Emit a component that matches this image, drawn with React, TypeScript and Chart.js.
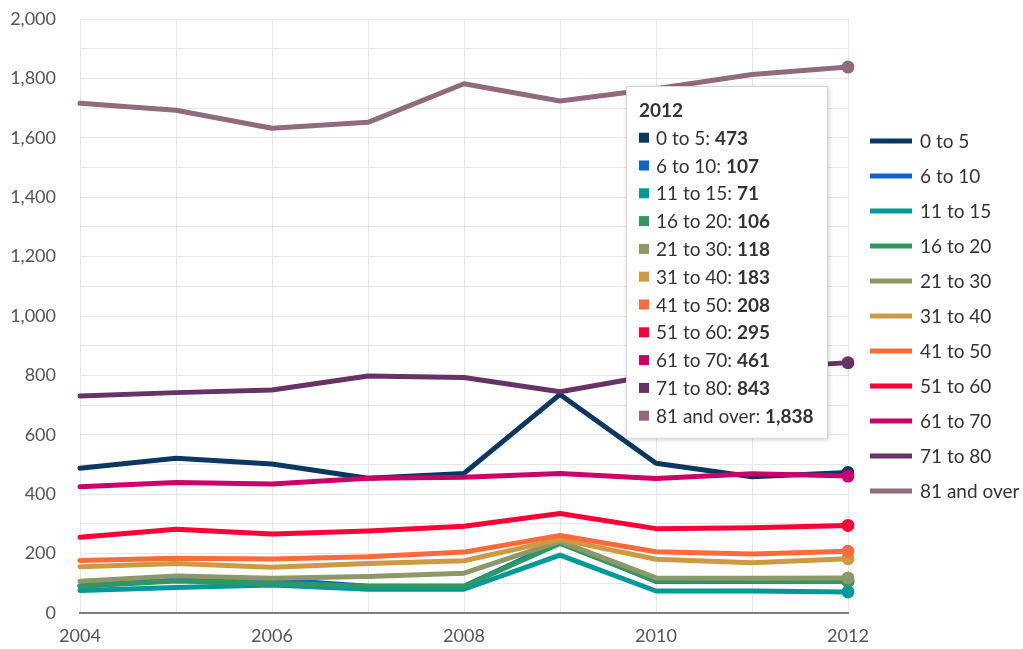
import React, { useEffect, useRef } from "react";
import { Chart, registerables } from "chart.js";

Chart.register(...registerables);

const years = ["2004", "2005", "2006", "2007", "2008", "2009", "2010", "2011", "2012"];

const seriesNames = [
  "0 to 5",
  "6 to 10",
  "11 to 15",
  "16 to 20",
  "21 to 30",
  "31 to 40",
  "41 to 50",
  "51 to 60",
  "61 to 70",
  "71 to 80",
  "81 and over",
];

const age0to5 = [487, 521, 502, 454, 470, 736, 504, 459, 473];
const age6to10 = [92, 111, 113, 90, 90, 240, 106, 106, 107];
const age11to15 = [76, 86, 94, 80, 80, 195, 74, 74, 71];
const age16to20 = [90, 108, 100, 90, 90, 234, 108, 107, 106];
const age21to30 = [107, 125, 117, 123, 134, 241, 118, 117, 118];
const age31to40 = [156, 167, 154, 167, 176, 248, 181, 169, 183];
const age41to50 = [177, 184, 182, 189, 205, 261, 206, 199, 208];
const age51to60 = [255, 282, 266, 276, 292, 335, 284, 287, 295];
const age61to70 = [425, 439, 434, 454, 457, 470, 453, 469, 461];
const age71to80 = [731, 742, 751, 798, 793, 745, 802, 822, 843];
const age81plus = [1716, 1693, 1632, 1652, 1782, 1724, 1765, 1813, 1838];

const seriesColors = [
  "#0b3763",
  "#0a66cc",
  "#00999a",
  "#2f9762",
  "#8b9868",
  "#cd9a43",
  "#ff6a3b",
  "#ff0037",
  "#cc0069",
  "#663366",
  "#916a7b",
];

const yMin = 0;
const yMax = 2000;
const yGridStep = 100;
const yLabelStep = 200;

const FONT = "Lato, 'Open Sans', sans-serif";

export default function App() {
  const canvasRef = useRef<HTMLCanvasElement | null>(null);

  useEffect(() => {
    document.body.style.margin = "0";
    const canvas = canvasRef.current;
    if (!canvas) return;

    const values = [
      age0to5,
      age6to10,
      age11to15,
      age16to20,
      age21to30,
      age31to40,
      age41to50,
      age51to60,
      age61to70,
      age71to80,
      age81plus,
    ];
    const n = values.length;
    const last = years.length - 1;

    const overlay = {
      id: "overlay",
      afterDraw(chart: any) {
        const ctx: CanvasRenderingContext2D = chart.ctx;
        const area = chart.chartArea;
        ctx.save();

        // Legend
        const legendStep = 35;
        const mid = (area.top + area.bottom) / 2;
        const ly0 = mid - ((n - 1) / 2) * legendStep;
        const lx = area.right + 22;
        ctx.font = `19px ${FONT}`;
        ctx.textBaseline = "middle";
        ctx.textAlign = "left";
        for (let i = 0; i < n; i++) {
          const y = ly0 + i * legendStep;
          ctx.strokeStyle = seriesColors[i];
          ctx.lineWidth = 5;
          ctx.lineCap = "butt";
          ctx.beginPath();
          ctx.moveTo(lx, y);
          ctx.lineTo(lx + 42, y);
          ctx.stroke();
          ctx.fillStyle = "#333";
          ctx.fillText(seriesNames[i], lx + 50, y + 1);
        }

        // Tooltip
        const xPix = chart.scales.x.getPixelForValue(last);
        const lineH = 27.8;
        const textX = 30;
        let maxW = 0;
        const rows = seriesNames.map((name, i) => {
          const label = `${name}: `;
          const val = values[i][last].toLocaleString("en-US");
          ctx.font = `19px ${FONT}`;
          const lw = ctx.measureText(label).width;
          ctx.font = `bold 19px ${FONT}`;
          const vw = ctx.measureText(val).width;
          maxW = Math.max(maxW, lw + vw);
          return { label, val, lw };
        });
        const boxW = Math.round(textX + maxW + 14);
        const boxRight = xPix - 20;
        const boxLeft = boxRight - boxW;
        const boxTop = area.top + 67;
        const boxH = 24 + 27.7 + (n - 1) * lineH + 23;

        ctx.save();
        ctx.shadowColor = "rgba(0,0,0,0.18)";
        ctx.shadowBlur = 5;
        ctx.shadowOffsetX = 1;
        ctx.shadowOffsetY = 1;
        ctx.fillStyle = "#ffffff";
        ctx.fillRect(boxLeft, boxTop, boxW, boxH);
        ctx.restore();
        ctx.strokeStyle = "#d6d6d6";
        ctx.lineWidth = 1;
        ctx.strokeRect(boxLeft + 0.5, boxTop + 0.5, boxW - 1, boxH - 1);

        ctx.fillStyle = "#333";
        ctx.font = `bold 19px ${FONT}`;
        ctx.textBaseline = "middle";
        ctx.fillText(years[last], boxLeft + 13, boxTop + 25);
        rows.forEach((r, i) => {
          const y = boxTop + 51.7 + i * lineH;
          ctx.fillStyle = seriesColors[i];
          ctx.fillRect(boxLeft + 13, y - 5, 10, 10);
          ctx.fillStyle = "#333";
          ctx.font = `19px ${FONT}`;
          ctx.fillText(r.label, boxLeft + textX, y + 1);
          ctx.font = `bold 19px ${FONT}`;
          ctx.fillText(r.val, boxLeft + textX + r.lw, y + 1);
        });
        ctx.restore();
      },
    };

    const chart = new Chart(canvas, {
      type: "line",
      data: {
        labels: years,
        datasets: seriesNames.map((name, i) => ({
          label: name,
          data: values[i],
          borderColor: seriesColors[i],
          backgroundColor: seriesColors[i],
          borderWidth: 5,
          borderCapStyle: "round",
          borderJoinStyle: "round",
          tension: 0,
          pointRadius: (c: any) => (c.dataIndex === last ? 6.5 : 0),
          pointHoverRadius: (c: any) => (c.dataIndex === last ? 6.5 : 0),
          pointBorderWidth: 0,
          pointBackgroundColor: seriesColors[i],
          order: n - i,
        })),
      },
      options: {
        animation: false,
        responsive: true,
        maintainAspectRatio: false,
        events: [],
        layout: { padding: { top: 19, right: 175, left: 0, bottom: 0 } },
        plugins: {
          legend: { display: false },
          tooltip: { enabled: false },
        },
        scales: {
          x: {
            type: "category",
            grid: { color: "#e6e6e6", lineWidth: 1, drawTicks: false },
            border: { display: true, color: "#808080", width: 2 },
            ticks: {
              autoSkip: false,
              maxRotation: 0,
              padding: 12,
              color: "#555",
              font: { family: FONT, size: 18 },
              callback: (_v: any, i: number) => (i % 2 === 0 ? years[i] : ""),
            },
            afterFit: (s: any) => {
              s.height = 36;
            },
          },
          y: {
            min: yMin,
            max: yMax,
            grid: { color: "#e6e6e6", lineWidth: 1, drawTicks: false },
            border: { display: false },
            ticks: {
              stepSize: yGridStep,
              padding: 24,
              color: "#555",
              font: { family: FONT, size: 18 },
              callback: (v: any) =>
                Number(v) % yLabelStep === 0 ? Number(v).toLocaleString("en-US") : "",
            },
            afterFit: (s: any) => {
              s.width = 80;
              s.paddingTop = 0;
              s.paddingBottom = 0;
            },
          },
        },
      },
      plugins: [overlay],
    } as any);

    return () => {
      chart.destroy();
    };
  }, []);

  return (
    <div style={{ width: 1023, height: 649, position: "relative" }}>
      <canvas ref={canvasRef} />
    </div>
  );
}
